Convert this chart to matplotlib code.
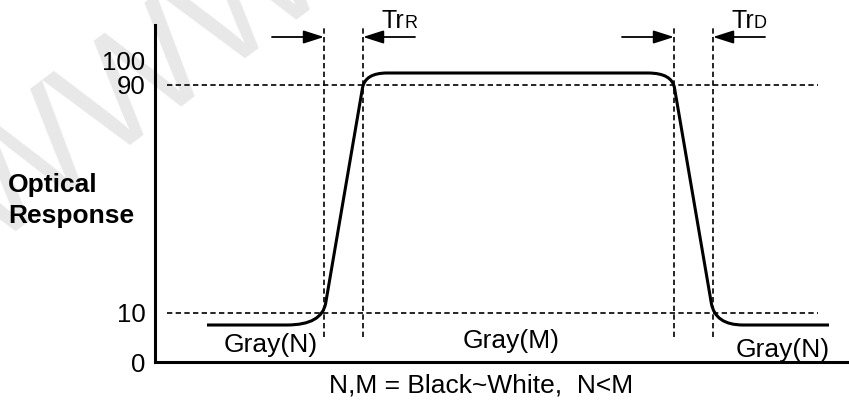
import matplotlib
matplotlib.use("Agg")
import matplotlib.pyplot as plt
from matplotlib.path import Path
from matplotlib.patches import PathPatch

plt.rcParams["font.family"] = ["Liberation Sans", "DejaVu Sans"]

# Schematic units: neither axis is to scale, so positions are kept
# in the drawing's own units and the y ticks are only labels.
Y_TICK_POS = [0, 49, 277, 302]
Y_TICK_LABELS = ["0", "10", "90", "100"]

LEVEL_LOW = 37      # Gray(N)
LEVEL_HIGH = 289    # Gray(M)
LEVEL_10 = 49
LEVEL_90 = 277

# time marks
T_START = 52
T_RISE_10 = 169
T_RISE_90 = 208
T_FALL_90 = 519
T_FALL_10 = 558
T_END = 674

# where the curve leaves / joins its flat parts
KNEE_LOW_LEFT = 132
KNEE_HIGH_LEFT = 232
KNEE_HIGH_RIGHT = 493
KNEE_LOW_RIGHT = 588
KNEE_LOW_OVERLAP = 10   # lower knees join the straight line above the 10 mark
KNEE_HIGH_OVERLAP = 3

X_MAX = 694
Y_MAX = 337
GUIDE_X = (12, 663)
VGUIDE_Y = (25, Y_MAX)
ARROW_LEN = 52
ARROW_Y = 325

FONT_SIZE = 19


def steep_point(level, t_a, l_a, t_b, l_b):
    """Point of the straight transition line at a given level."""
    return (t_a + (level - l_a) * (t_b - t_a) / (l_b - l_a), level)


def build_response_path():
    rise = (T_RISE_10, LEVEL_10, T_RISE_90, LEVEL_90)
    fall = (T_FALL_90, LEVEL_90, T_FALL_10, LEVEL_10)

    verts = [
        (T_START, LEVEL_LOW),
        (KNEE_LOW_LEFT, LEVEL_LOW),
        steep_point(LEVEL_LOW, *rise),
        steep_point(LEVEL_10 + KNEE_LOW_OVERLAP, *rise),
        steep_point(LEVEL_90 - KNEE_HIGH_OVERLAP, *rise),
        steep_point(LEVEL_HIGH, *rise),
        (KNEE_HIGH_LEFT, LEVEL_HIGH),
        (KNEE_HIGH_RIGHT, LEVEL_HIGH),
        steep_point(LEVEL_HIGH, *fall),
        steep_point(LEVEL_90 - KNEE_HIGH_OVERLAP, *fall),
        steep_point(LEVEL_10 + KNEE_LOW_OVERLAP, *fall),
        steep_point(LEVEL_LOW, *fall),
        (KNEE_LOW_RIGHT, LEVEL_LOW),
        (T_END, LEVEL_LOW),
    ]
    codes = [
        Path.MOVETO, Path.LINETO, Path.CURVE3, Path.CURVE3,
        Path.LINETO, Path.CURVE3, Path.CURVE3, Path.LINETO,
        Path.CURVE3, Path.CURVE3, Path.LINETO, Path.CURVE3,
        Path.CURVE3, Path.LINETO,
    ]
    return Path(verts, codes)


fig = plt.figure(figsize=(8.49, 4.0), dpi=100)
ax = fig.add_axes([155 / 849, 38 / 400, 694 / 849, 337 / 400])
ax.set_zorder(2)
ax.patch.set_alpha(0)
ax.set_xlim(0, X_MAX)
ax.set_ylim(0, Y_MAX)

# faint watermark behind the drawing
fig.text(-10 / 849, 1 - 250 / 400, "WWW", fontsize=110, color="#e8e8e8",
         rotation=37, rotation_mode="anchor", ha="left", va="baseline",
         zorder=0)

dash = dict(color="black", linewidth=1.2, linestyle=(0, (3.2, 2.0)))

for level in (LEVEL_10, LEVEL_90):
    ax.plot(GUIDE_X, (level, level), **dash)

for t in (T_RISE_10, T_RISE_90, T_FALL_90, T_FALL_10):
    ax.plot((t, t), VGUIDE_Y, clip_on=False, **dash)

ax.add_patch(PathPatch(build_response_path(), facecolor="none",
                       edgecolor="black", linewidth=2.2,
                       capstyle="butt", clip_on=False))

# arrows: pointing right onto the first mark, left onto the second one
arrow_props = dict(arrowstyle="-|>,head_length=1.25,head_width=0.4",
                   color="black", lw=1.3, shrinkA=0, shrinkB=0,
                   mutation_scale=10)
for t_first, t_second in ((T_RISE_10, T_RISE_90), (T_FALL_90, T_FALL_10)):
    ax.annotate("", xy=(t_first, ARROW_Y), xytext=(t_first - ARROW_LEN, ARROW_Y),
                arrowprops=arrow_props, annotation_clip=False)
    ax.annotate("", xy=(t_second, ARROW_Y), xytext=(t_second + ARROW_LEN, ARROW_Y),
                arrowprops=arrow_props, annotation_clip=False)

# TrR / TrD labels
for t_second, suffix in ((T_RISE_90, "R"), (T_FALL_10, "D")):
    ax.text(t_second + 19, 334, "Tr", fontsize=18, ha="left",
            va="baseline", clip_on=False)
    ax.text(t_second + 41, 334, suffix, fontsize=13, ha="left",
            va="baseline", clip_on=False)

ax.text((T_START + T_RISE_10) / 2 + 5, 10, "Gray(N)", fontsize=FONT_SIZE,
        ha="center", va="baseline")
ax.text((T_RISE_90 + T_FALL_90) / 2 - 7, 14, "Gray(M)", fontsize=FONT_SIZE,
        ha="center", va="baseline")
ax.text((T_FALL_10 + T_END) / 2 + 12, 5.5, "Gray(N)", fontsize=FONT_SIZE,
        ha="center", va="baseline")

ax.text(326, -30.5, "N,M = Black~White,  N<M", fontsize=FONT_SIZE,
        ha="center", va="baseline", clip_on=False)

fig.text(8 / 849, 1 - 192 / 400, "Optical", fontsize=FONT_SIZE,
         fontweight="bold", ha="left", va="baseline")
fig.text(8 / 849, 1 - 222.5 / 400, "Response", fontsize=FONT_SIZE,
         fontweight="bold", ha="left", va="baseline")

for side in ("top", "right"):
    ax.spines[side].set_visible(False)
for side in ("left", "bottom"):
    ax.spines[side].set_linewidth(2.2)

ax.set_xticks([])
ax.set_yticks(Y_TICK_POS, Y_TICK_LABELS)
ax.tick_params(axis="y", length=0, pad=7, labelsize=18.5)

fig.savefig("out.png", dpi=100)
plt.close(fig)
